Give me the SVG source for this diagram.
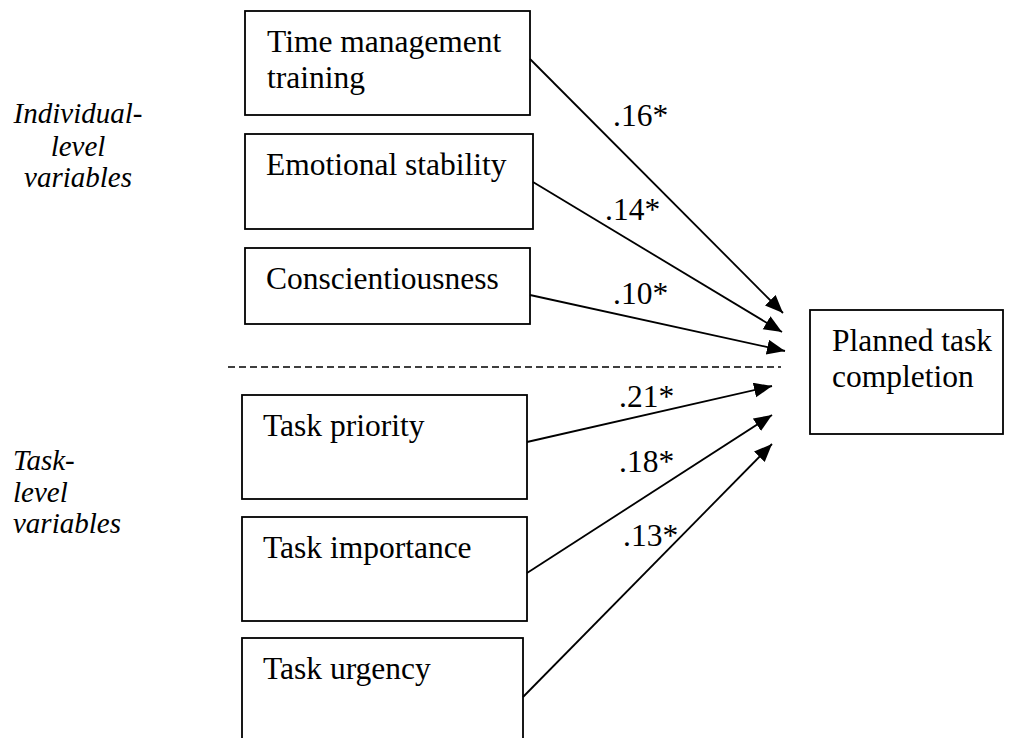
<svg xmlns="http://www.w3.org/2000/svg" width="1019" height="738" viewBox="0 0 1019 738">
  <style>
    .box { fill: #fff; stroke: #000; stroke-width: 1.8; }
    .lbl { font-family: "Liberation Serif", "Times New Roman", serif; font-size: 31.5px; fill: #000; }
    .coef { font-family: "Liberation Serif", "Times New Roman", serif; font-size: 31.5px; fill: #000; }
    .side { font-family: "Liberation Serif", "Times New Roman", serif; font-size: 29px; font-style: italic; fill: #000; }
    .edge { stroke: #000; stroke-width: 1.8; fill: none; marker-end: url(#head); }
    .divider { stroke: #000; stroke-width: 1.5; stroke-dasharray: 7 4; }
  </style>
  <defs>
    <marker id="head" markerUnits="userSpaceOnUse" markerWidth="20" markerHeight="18" refX="18" refY="7.5" orient="auto">
      <path d="M0,0 L18,7.5 L0,15 Z" fill="#000"/>
    </marker>
  </defs>
  <rect width="1019" height="738" fill="#fff"/>

  <!-- side group labels -->
  <g id="individual-level">
    <text class="side" text-anchor="middle" x="78" y="123">Individual-</text>
    <text class="side" text-anchor="middle" x="78" y="156">level</text>
    <text class="side" text-anchor="middle" x="78" y="187">variables</text>
  </g>
  <g id="task-level">
    <text class="side" x="13" y="470">Task-</text>
    <text class="side" x="13" y="502">level</text>
    <text class="side" x="13" y="533">variables</text>
  </g>

  <!-- separator between the two levels -->
  <line class="divider" x1="228" y1="367" x2="781" y2="367"/>

  <!-- predictor nodes -->
  <g id="time-management">
    <rect class="box" x="245" y="11" width="285" height="104"/>
    <text class="lbl" x="267" y="52">Time management</text>
    <text class="lbl" x="267" y="88">training</text>
  </g>
  <g id="emotional-stability">
    <rect class="box" x="245" y="134" width="288" height="95"/>
    <text class="lbl" x="266" y="175">Emotional stability</text>
  </g>
  <g id="conscientiousness">
    <rect class="box" x="245" y="248" width="285" height="76"/>
    <text class="lbl" x="266" y="289">Conscientiousness</text>
  </g>
  <g id="task-priority">
    <rect class="box" x="242" y="395" width="285" height="104"/>
    <text class="lbl" x="263" y="436">Task priority</text>
  </g>
  <g id="task-importance">
    <rect class="box" x="242" y="517" width="285" height="104"/>
    <text class="lbl" x="263" y="558">Task importance</text>
  </g>
  <g id="task-urgency">
    <rect class="box" x="242" y="638" width="281" height="110"/>
    <text class="lbl" x="263" y="679">Task urgency</text>
  </g>

  <!-- outcome node -->
  <g id="planned-completion">
    <rect class="box" x="810" y="310" width="193" height="124"/>
    <text class="lbl" x="832" y="351">Planned task</text>
    <text class="lbl" x="832" y="387">completion</text>
  </g>

  <!-- paths with coefficients -->
  <g id="connectors">
    <line class="edge" x1="530" y1="59" x2="783" y2="313"/>
    <line class="edge" x1="533" y1="182" x2="782" y2="332"/>
    <line class="edge" x1="530" y1="295" x2="785" y2="351"/>
    <line class="edge" x1="527" y1="442" x2="772" y2="386"/>
    <line class="edge" x1="527" y1="573" x2="772" y2="415"/>
    <line class="edge" x1="523" y1="697" x2="772" y2="444"/>
    <text class="coef" x="613" y="126">.16*</text>
    <text class="coef" x="605" y="220">.14*</text>
    <text class="coef" x="613" y="304">.10*</text>
    <text class="coef" x="619" y="407">.21*</text>
    <text class="coef" x="619" y="472">.18*</text>
    <text class="coef" x="623" y="546">.13*</text>
  </g>
</svg>
